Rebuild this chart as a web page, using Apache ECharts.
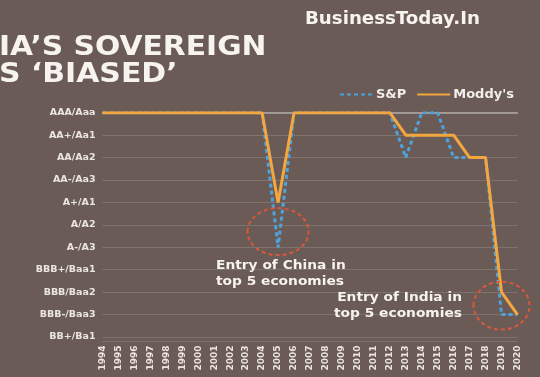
<!DOCTYPE html>
<html>
<head>
<meta charset="utf-8">
<script src="https://cdn.jsdelivr.net/npm/echarts@6/dist/echarts.min.js"></script>
<style>
html,body{margin:0;padding:0;background:#6b5b56;}
#c{width:540px;height:377px;}
</style>
</head>
<body>
<div id="c"></div>
<script>
const years = ['1994','1995','1996','1997','1998','1999','2000','2001','2002','2003','2004','2005','2006','2007','2008','2009','2010','2011','2012','2013','2014','2015','2016','2017','2018','2019','2020'];
const ratings = ['AAA/Aaa','AA+/Aa1','AA/Aa2','AA-/Aa3','A+/A1','A/A2','A-/A3','BBB+/Baa1','BBB/Baa2','BBB-/Baa3','BB+/Ba1'];
// rating index: 0 = AAA/Aaa ... 10 = BB+/Ba1
const sp     = [0,0,0,0,0,0,0,0,0,0,0,6,0,0,0,0,0,0,0,2,0,0,2,2,2,9,9];
const moodys = [0,0,0,0,0,0,0,0,0,0,0,4,0,0,0,0,0,0,0,1,1,1,1,2,2,8,9];

const FONT = 'DejaVu Sans';
const chart = echarts.init(document.getElementById('c'), null, {renderer:'canvas'});
chart.setOption({
  backgroundColor: '#6b5b56',
  animation: false,
  grid: {left: 102.5, right: 22.5, top: 112.7, height: 228.8},
  legend: {
    data: ['S&P', "Moddy's"],
    left: 334, top: 83,
    itemWidth: 33, itemHeight: 12, itemGap: 10,
    itemStyle: {opacity: 0},
    textStyle: {color: '#f2eeea', fontSize: 13, fontWeight: 'bold', fontFamily: FONT, padding: [0, 0, 0, -2]}
  },
  xAxis: {
    type: 'category', data: years, boundaryGap: false,
    axisLine: {lineStyle: {color: '#b3a9a5', width: 1.5}},
    axisTick: {show: false},
    axisLabel: {rotate: 90, interval: 0, margin: 4, color: '#ebe5e1', fontSize: 9, fontWeight: 'bold', fontFamily: FONT},
    splitLine: {show: false}
  },
  yAxis: {
    type: 'value', inverse: true, min: 0, max: 10.2, interval: 1,
    axisLine: {show: false}, axisTick: {show: false},
    axisLabel: {
      margin: 7, color: '#ebe5e1', fontSize: 9.5, fontWeight: 'bold', fontFamily: FONT,
      formatter: v => Number.isInteger(v) ? (ratings[v] || '') : ''
    },
    splitLine: {lineStyle: {color: 'rgba(255,255,255,0.14)', width: 1}}
  },
  series: [
    {name: 'S&P', type: 'line', data: sp, symbol: 'none', z: 2,
     lineStyle: {color: '#4ea3dc', width: 3, type: [4, 3]}, itemStyle: {color: '#4ea3dc'}},
    {name: "Moddy's", type: 'line', data: moodys, symbol: 'none', z: 3,
     lineStyle: {color: '#f4a73f', width: 3}, itemStyle: {color: '#f4a73f'}}
  ]
});

const p1 = chart.convertToPixel({gridIndex: 0}, [11, 5.3]);
const p2 = chart.convertToPixel({gridIndex: 0}, [25.1, 8.6]);
const circ = {stroke: '#d9573b', fill: 'none', lineWidth: 2, lineDash: [4, 3]};
const txt = (text, x, y, font, sx, align) => ({
  type: 'text', x: x, y: y, scaleX: sx, silent: true,
  style: {text: text, font: font, fill: '#f7f3ef', align: align || 'left', verticalAlign: 'middle', lineHeight: 16}
});
chart.setOption({
  graphic: [
    txt('IA\u2019S SOVEREIGN', -1, 48, 'bold 26px "DejaVu Sans"', 1.145),
    txt('S \u2018BIASED\u2019', -1, 75, 'bold 26px "DejaVu Sans"', 1.15),
    txt('BusinessToday.In', 305, 20, 'bold 17px "DejaVu Sans"', 1.07),
    {type: 'ellipse', shape: {cx: p1[0], cy: p1[1], rx: 30.5, ry: 23.5}, style: circ, silent: true, z: 10},
    {type: 'ellipse', shape: {cx: p2[0], cy: p2[1], rx: 28, ry: 24}, style: circ, silent: true, z: 10},
    txt('Entry of China in\ntop 5 economies', 216, 273.5, 'bold 13px "DejaVu Sans"', 1.06),
    txt('Entry of India in\ntop 5 economies', 462, 306, 'bold 13px "DejaVu Sans"', 1.06, 'right')
  ]
});
</script>
</body>
</html>
